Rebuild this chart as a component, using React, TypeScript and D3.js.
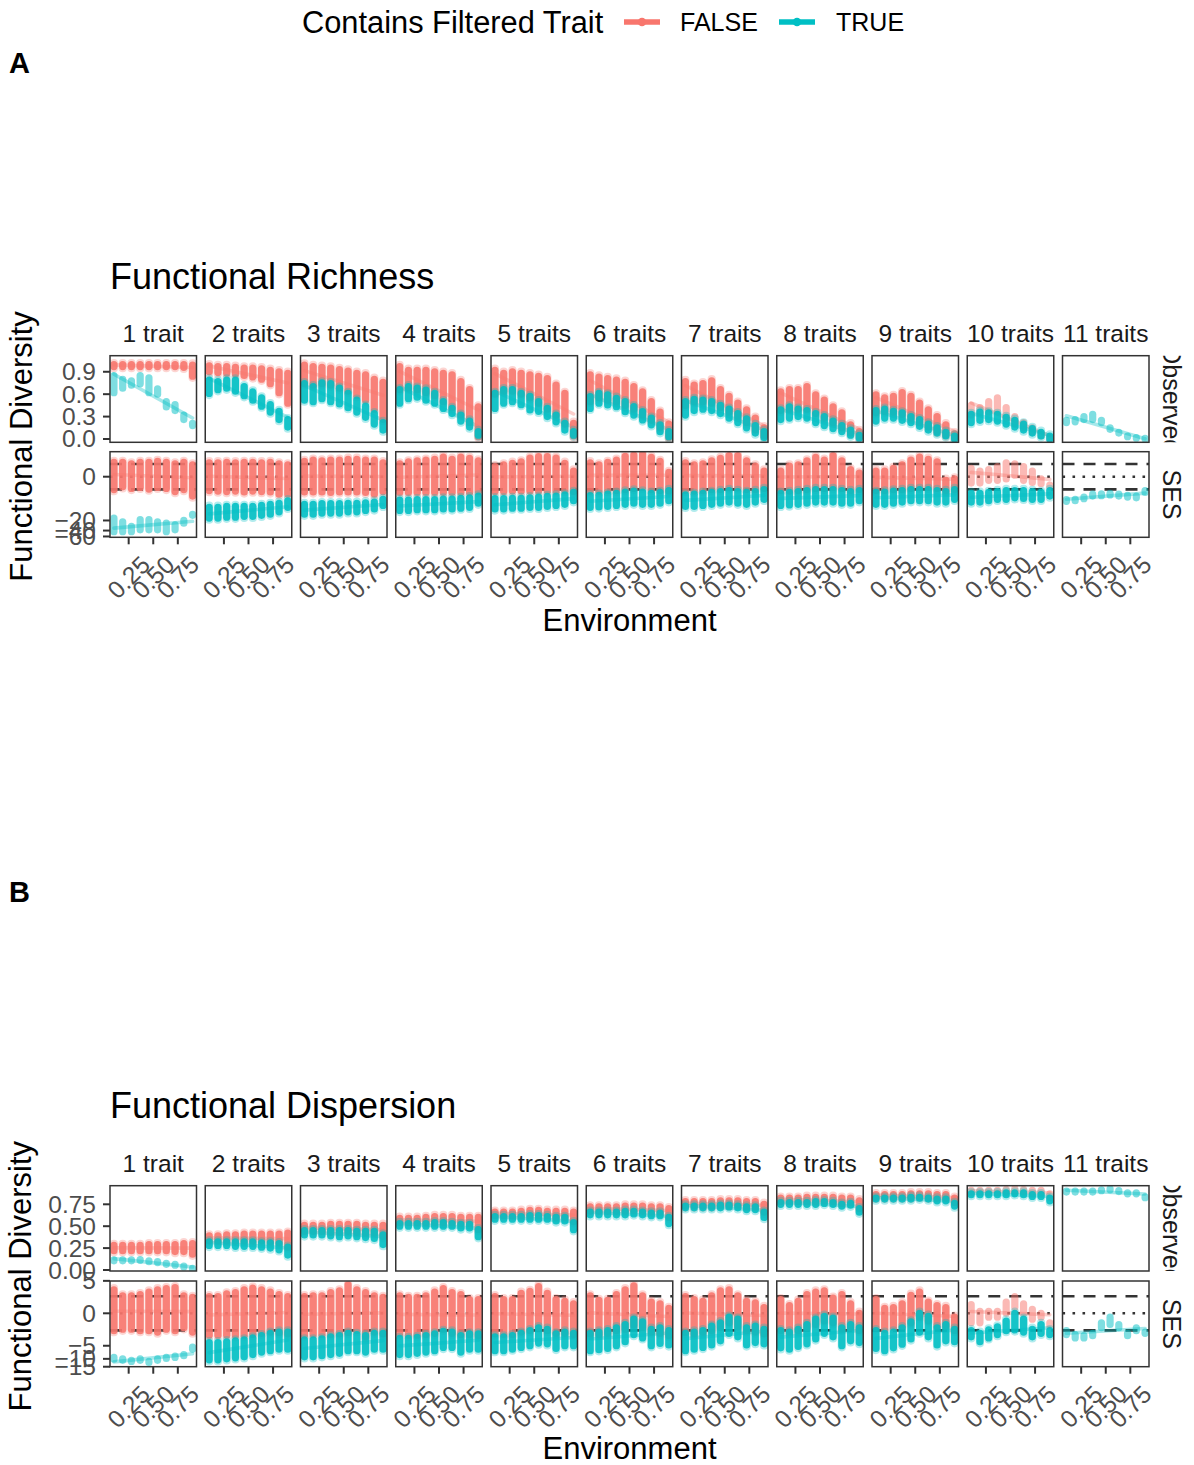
import React from "react";
import * as d3 from "d3";

// ---------------- DATA ----------------
const ENVIRONMENT = [0.1, 0.189, 0.278, 0.367, 0.456, 0.544, 0.633, 0.722, 0.811, 0.9];
const TRAIT_PANELS = ["1 trait", "2 traits", "3 traits", "4 traits", "5 traits", "6 traits", "7 traits", "8 traits", "9 traits", "10 traits", "11 traits"];
const GROUPS = ["FALSE", "TRUE"];
const GROUP_COLORS = ["#F8766D", "#00BFC4"];
// number of trait combinations per panel in each group
const COMBOS_FALSE = [10, 45, 120, 210, 252, 210, 120, 45, 10, 1, 0];
const COMBOS_TRUE = [1, 10, 45, 120, 210, 252, 210, 120, 45, 10, 1];
const X_TICKS = [0.25, 0.5, 0.75];
const FRIC_OBS_TICKS = [0, 0.3, 0.6, 0.9];
const FRIC_SES_TICKS = [0, -20, -40, -60];
const FDIS_OBS_TICKS = [0, 0.25, 0.5, 0.75];
const FDIS_SES_TICKS = [5, 0, -5, -10, -15];
const SES_BOUNDS = [-1.96, 1.96];
const SES_CENTER = [0];

// Functional Richness, observed (per panel: low / high of the point column at each environment)
const fricObsFalseLo = [
  [0.97, 0.97, 0.97, 0.97, 0.97, 0.97, 0.97, 0.97, 0.96, 0.84],
  [0.90, 0.89, 0.88, 0.87, 0.85, 0.83, 0.80, 0.74, 0.62, 0.48],
  [0.74, 0.72, 0.74, 0.72, 0.68, 0.64, 0.58, 0.52, 0.40, 0.26],
  [0.66, 0.68, 0.66, 0.62, 0.58, 0.50, 0.42, 0.32, 0.22, 0.03],
  [0.60, 0.64, 0.64, 0.60, 0.55, 0.48, 0.40, 0.32, 0.20, 0.04],
  [0.50, 0.55, 0.52, 0.50, 0.45, 0.40, 0.32, 0.25, 0.15, 0.02],
  [0.45, 0.50, 0.50, 0.48, 0.42, 0.36, 0.30, 0.22, 0.12, 0.04],
  [0.38, 0.40, 0.40, 0.40, 0.34, 0.28, 0.22, 0.15, 0.08, 0.02],
  [0.35, 0.37, 0.36, 0.33, 0.28, 0.22, 0.16, 0.10, 0.05, 0.01],
  [0.32, 0.35, 0.36, 0.36, 0.28, 0.20, 0.15, 0.09, 0.04, 0.00],
  null,
];
const fricObsFalseHi = [
  [0.995, 0.995, 0.995, 0.995, 0.995, 0.995, 0.995, 0.995, 0.995, 0.99],
  [0.98, 0.97, 0.97, 0.96, 0.95, 0.95, 0.94, 0.92, 0.90, 0.88],
  [0.99, 0.97, 0.96, 0.95, 0.93, 0.91, 0.88, 0.86, 0.80, 0.76],
  [0.97, 0.92, 0.92, 0.92, 0.90, 0.88, 0.86, 0.77, 0.66, 0.43],
  [0.92, 0.88, 0.90, 0.88, 0.86, 0.84, 0.81, 0.72, 0.61, 0.21],
  [0.86, 0.83, 0.81, 0.79, 0.76, 0.70, 0.63, 0.50, 0.36, 0.20],
  [0.77, 0.72, 0.74, 0.78, 0.66, 0.57, 0.48, 0.39, 0.28, 0.15],
  [0.63, 0.66, 0.66, 0.70, 0.59, 0.52, 0.43, 0.35, 0.19, 0.10],
  [0.59, 0.55, 0.57, 0.62, 0.57, 0.48, 0.39, 0.30, 0.19, 0.07],
  [0.45, 0.42, 0.50, 0.55, 0.42, 0.30, 0.22, 0.15, 0.08, 0.02],
  null,
];
const fricObsTrueLo = [
  [0.62, 0.68, 0.72, 0.74, 0.62, 0.60, 0.43, 0.38, 0.26, 0.18],
  [0.61, 0.66, 0.68, 0.64, 0.58, 0.52, 0.44, 0.36, 0.26, 0.16],
  [0.52, 0.50, 0.54, 0.50, 0.47, 0.42, 0.36, 0.29, 0.20, 0.12],
  [0.48, 0.54, 0.56, 0.52, 0.48, 0.41, 0.34, 0.24, 0.16, 0.05],
  [0.41, 0.48, 0.50, 0.46, 0.39, 0.37, 0.30, 0.23, 0.12, 0.05],
  [0.41, 0.48, 0.455, 0.433, 0.366, 0.32, 0.255, 0.19, 0.098, 0.03],
  [0.32, 0.38, 0.40, 0.38, 0.34, 0.28, 0.22, 0.15, 0.08, 0.02],
  [0.26, 0.28, 0.30, 0.28, 0.22, 0.18, 0.14, 0.10, 0.05, 0.01],
  [0.24, 0.28, 0.28, 0.25, 0.22, 0.17, 0.12, 0.08, 0.04, 0.00],
  [0.22, 0.25, 0.26, 0.24, 0.20, 0.16, 0.12, 0.08, 0.04, 0.00],
  [0.22, 0.23, 0.26, 0.26, 0.22, 0.13, 0.08, 0.03, 0.01, 0.00],
];
const fricObsTrueHi = [
  [0.85, 0.80, 0.78, 0.85, 0.82, 0.67, 0.50, 0.46, 0.32, 0.21],
  [0.79, 0.77, 0.79, 0.79, 0.70, 0.63, 0.55, 0.46, 0.37, 0.26],
  [0.74, 0.70, 0.75, 0.74, 0.68, 0.61, 0.52, 0.44, 0.34, 0.22],
  [0.66, 0.70, 0.68, 0.656, 0.61, 0.50, 0.41, 0.32, 0.24, 0.10],
  [0.61, 0.66, 0.66, 0.61, 0.57, 0.50, 0.41, 0.32, 0.21, 0.10],
  [0.567, 0.61, 0.59, 0.545, 0.50, 0.433, 0.366, 0.28, 0.19, 0.098],
  [0.50, 0.53, 0.52, 0.50, 0.45, 0.40, 0.34, 0.27, 0.18, 0.10],
  [0.39, 0.43, 0.40, 0.38, 0.34, 0.30, 0.24, 0.18, 0.12, 0.05],
  [0.38, 0.40, 0.37, 0.35, 0.30, 0.26, 0.20, 0.15, 0.09, 0.04],
  [0.33, 0.36, 0.35, 0.33, 0.29, 0.25, 0.20, 0.14, 0.09, 0.04],
  [0.25, 0.26, 0.30, 0.33, 0.25, 0.15, 0.09, 0.04, 0.02, 0.01],
];

// Functional Richness, SES
const fricSesFalseLo = [
  [-2.0, -1.5, -1.8, -1.6, -1.9, -1.6, -1.8, -2.4, -2.0, -3.5],
  [-2.2, -2.3, -2.4, -2.3, -2.5, -2.3, -2.4, -2.5, -3.0, -3.0],
  [-2.5, -2.5, -2.5, -2.6, -2.5, -2.5, -2.5, -2.6, -3.0, -2.4],
  [-2.6, -2.6, -2.6, -2.6, -2.6, -2.6, -2.6, -2.6, -2.6, -2.4],
  [-2.4, -2.4, -2.3, -2.3, -2.3, -2.3, -2.3, -2.3, -2.2, -2.4],
  [-2.3, -2.3, -2.2, -2.2, -2.0, -1.8, -1.6, -2.0, -2.2, -2.3],
  [-2.2, -2.3, -2.2, -2.0, -2.0, -1.7, -1.7, -2.0, -2.0, -1.8],
  [-2.2, -2.3, -2.2, -2.0, -1.8, -1.8, -1.6, -1.8, -2.2, -2.0],
  [-2.2, -2.2, -2.0, -2.0, -1.8, -1.6, -1.6, -1.8, -2.2, -2.0],
  [-0.9, -0.9, -0.5, -0.5, -0.3, 0.2, -0.5, -0.8, -1.0, -1.5],
  null,
];
const fricSesFalseHi = [
  [2.3, 2.3, 2.0, 2.3, 2.3, 2.5, 2.3, 2.0, 2.3, 1.8],
  [2.2, 2.2, 2.3, 2.2, 2.3, 2.3, 2.2, 2.3, 2.0, 1.8],
  [2.5, 2.8, 2.6, 2.8, 2.8, 3.0, 3.0, 2.8, 2.8, 2.2],
  [2.0, 2.4, 2.6, 2.8, 3.0, 3.6, 3.0, 3.6, 3.2, 2.6],
  [1.5, 1.8, 2.1, 2.4, 3.3, 3.7, 3.7, 3.3, 2.1, 0.8],
  [2.2, 1.8, 2.3, 2.8, 3.8, 4.2, 4.5, 3.5, 2.5, 0.6],
  [2.2, 1.8, 2.0, 2.6, 3.2, 4.0, 4.0, 2.6, 1.6, 0.8],
  [0.8, 1.6, 1.8, 2.6, 3.5, 2.8, 4.0, 2.6, 1.0, 0.5],
  [0.8, 0.8, 1.2, 1.8, 2.8, 3.6, 3.0, 2.4, -0.5, -0.3],
  [1.2, 0.8, 1.0, 1.5, 2.2, 2.0, 1.5, 0.8, -0.3, -1.2],
  null,
];
const fricSesTrueLo = [
  [-43, -43, -43, -38, -38, -38, -43, -38, -24, -14],
  [-17, -17, -16, -16, -15, -15, -14, -13, -11, -8],
  [-13, -13, -12, -12, -12, -11, -11, -10, -9, -7],
  [-10, -10, -9.5, -9.5, -9.5, -9, -9, -8.5, -8, -6],
  [-9, -9, -8.5, -8.5, -8, -8, -7.5, -7, -6.5, -5],
  [-8, -7.8, -7.5, -7, -6.5, -6, -6.5, -6.5, -6, -5],
  [-7.5, -7.5, -7, -6.5, -6, -5.5, -6, -6.5, -5.5, -4.5],
  [-7, -6.8, -6.5, -6, -5.5, -5.5, -5.5, -6, -6, -5],
  [-6.5, -6.5, -6, -5.5, -5, -5, -5, -5.5, -5.5, -4.5],
  [-5.5, -5.5, -5, -4.5, -4.5, -4, -4.2, -4.5, -4.5, -3.5],
  [-5.2, -5, -4.3, -3.5, -3.4, -3.2, -3.5, -3.8, -4.0, -2.6],
];
const fricSesTrueHi = [
  [-17, -22, -30, -19, -19, -22, -24, -27, -20, -13],
  [-8, -8, -7.5, -7.5, -7.5, -7.5, -7, -6.5, -6, -5],
  [-6.5, -6.5, -6.2, -6.2, -6.2, -6.0, -6.0, -5.8, -5.5, -4.5],
  [-4.8, -4.8, -4.6, -4.6, -4.6, -4.4, -4.4, -4.2, -4.0, -3.5],
  [-4.3, -4.3, -4.2, -4.2, -4.0, -3.8, -3.6, -3.5, -3.2, -2.6],
  [-3.4, -3.3, -3.0, -2.8, -2.5, -2.3, -2.5, -2.8, -2.6, -2.2],
  [-3.2, -3.0, -2.8, -2.6, -2.4, -2.2, -2.4, -2.6, -2.4, -2.0],
  [-2.8, -2.6, -2.4, -2.2, -2.0, -2.0, -2.0, -2.2, -2.4, -2.2],
  [-2.6, -2.5, -2.3, -2.2, -2.0, -2.0, -2.0, -2.2, -2.4, -2.0],
  [-2.8, -2.8, -2.6, -2.4, -2.2, -2.2, -2.2, -2.4, -2.6, -2.2],
  [-4.6, -4.5, -3.8, -3.0, -2.9, -2.8, -3.0, -3.3, -3.5, -2.2],
];

// Functional Dispersion, observed
const fdisObsFalseLo = [
  [0.22, 0.22, 0.22, 0.22, 0.22, 0.22, 0.22, 0.21, 0.21, 0.18],
  [0.33, 0.33, 0.33, 0.33, 0.33, 0.33, 0.33, 0.32, 0.31, 0.26],
  [0.44, 0.44, 0.44, 0.43, 0.43, 0.44, 0.43, 0.42, 0.42, 0.38],
  [0.54, 0.54, 0.54, 0.54, 0.54, 0.54, 0.54, 0.53, 0.53, 0.46],
  [0.62, 0.62, 0.62, 0.62, 0.62, 0.62, 0.62, 0.60, 0.60, 0.55],
  [0.67, 0.67, 0.67, 0.67, 0.67, 0.68, 0.67, 0.66, 0.66, 0.60],
  [0.73, 0.73, 0.73, 0.73, 0.74, 0.74, 0.74, 0.72, 0.72, 0.66],
  [0.78, 0.78, 0.78, 0.78, 0.78, 0.79, 0.78, 0.76, 0.77, 0.70],
  [0.83, 0.83, 0.83, 0.83, 0.83, 0.84, 0.83, 0.82, 0.82, 0.77],
  [0.88, 0.88, 0.88, 0.88, 0.89, 0.89, 0.89, 0.87, 0.87, 0.83],
  null,
];
const fdisObsFalseHi = [
  [0.28, 0.28, 0.28, 0.28, 0.29, 0.29, 0.29, 0.29, 0.30, 0.30],
  [0.39, 0.39, 0.40, 0.40, 0.41, 0.41, 0.41, 0.41, 0.41, 0.42],
  [0.51, 0.51, 0.51, 0.52, 0.52, 0.52, 0.52, 0.51, 0.51, 0.51],
  [0.59, 0.59, 0.59, 0.60, 0.61, 0.61, 0.61, 0.60, 0.60, 0.60],
  [0.66, 0.66, 0.66, 0.67, 0.68, 0.68, 0.67, 0.67, 0.67, 0.66],
  [0.72, 0.72, 0.72, 0.72, 0.73, 0.73, 0.73, 0.72, 0.72, 0.70],
  [0.78, 0.78, 0.78, 0.78, 0.79, 0.79, 0.79, 0.78, 0.78, 0.75],
  [0.82, 0.82, 0.82, 0.83, 0.83, 0.83, 0.83, 0.82, 0.82, 0.79],
  [0.86, 0.86, 0.86, 0.86, 0.87, 0.87, 0.87, 0.86, 0.86, 0.82],
  [0.91, 0.91, 0.91, 0.91, 0.92, 0.93, 0.92, 0.91, 0.91, 0.87],
  null,
];
const fdisObsTrueLo = [
  [0.105, 0.105, 0.105, 0.11, 0.095, 0.085, 0.065, 0.055, 0.035, 0.01],
  [0.28, 0.28, 0.28, 0.27, 0.27, 0.27, 0.26, 0.25, 0.23, 0.17],
  [0.40, 0.40, 0.40, 0.39, 0.38, 0.39, 0.38, 0.37, 0.36, 0.29],
  [0.50, 0.50, 0.50, 0.50, 0.50, 0.50, 0.50, 0.48, 0.48, 0.38],
  [0.58, 0.58, 0.58, 0.58, 0.58, 0.58, 0.58, 0.56, 0.56, 0.46],
  [0.63, 0.63, 0.63, 0.63, 0.63, 0.64, 0.63, 0.62, 0.62, 0.53],
  [0.71, 0.71, 0.71, 0.71, 0.71, 0.72, 0.71, 0.69, 0.69, 0.60],
  [0.75, 0.75, 0.75, 0.75, 0.75, 0.76, 0.75, 0.73, 0.74, 0.66],
  [0.81, 0.81, 0.81, 0.81, 0.81, 0.82, 0.81, 0.79, 0.79, 0.73],
  [0.86, 0.86, 0.86, 0.86, 0.86, 0.87, 0.86, 0.84, 0.84, 0.79],
  [0.89, 0.89, 0.89, 0.89, 0.905, 0.915, 0.895, 0.87, 0.87, 0.825],
];
const fdisObsTrueHi = [
  [0.115, 0.115, 0.115, 0.12, 0.105, 0.095, 0.075, 0.065, 0.045, 0.02],
  [0.32, 0.32, 0.32, 0.32, 0.32, 0.32, 0.31, 0.31, 0.30, 0.26],
  [0.45, 0.45, 0.45, 0.45, 0.45, 0.45, 0.44, 0.44, 0.44, 0.40],
  [0.53, 0.53, 0.53, 0.53, 0.54, 0.54, 0.53, 0.52, 0.52, 0.46],
  [0.61, 0.61, 0.61, 0.61, 0.62, 0.62, 0.61, 0.60, 0.60, 0.54],
  [0.66, 0.66, 0.66, 0.66, 0.67, 0.67, 0.66, 0.65, 0.65, 0.60],
  [0.73, 0.73, 0.73, 0.73, 0.74, 0.74, 0.73, 0.72, 0.72, 0.66],
  [0.77, 0.77, 0.77, 0.77, 0.78, 0.78, 0.77, 0.75, 0.76, 0.70],
  [0.82, 0.82, 0.82, 0.82, 0.83, 0.83, 0.82, 0.81, 0.81, 0.76],
  [0.87, 0.87, 0.87, 0.87, 0.88, 0.88, 0.88, 0.86, 0.86, 0.82],
  [0.90, 0.90, 0.90, 0.90, 0.915, 0.925, 0.905, 0.88, 0.88, 0.835],
];

// Functional Dispersion, SES
const fdisSesFalseLo = [
  [-2.0, -1.8, -1.8, -2.0, -2.0, -2.2, -1.8, -2.0, -1.6, -2.2],
  [-2.7, -2.7, -2.7, -2.8, -2.7, -2.6, -2.4, -2.2, -2.3, -2.5],
  [-2.7, -2.6, -2.6, -2.6, -2.5, -2.3, -2.0, -3.0, -2.2, -2.5],
  [-2.5, -2.7, -2.7, -2.6, -2.4, -1.8, -2.4, -2.6, -2.6, -2.8],
  [-2.5, -2.6, -2.6, -2.2, -2.0, -1.6, -2.0, -2.4, -2.4, -2.6],
  [-2.5, -2.6, -2.4, -2.0, -1.8, -1.3, -1.6, -2.2, -2.4, -2.8],
  [-2.3, -2.5, -2.2, -2.0, -1.6, -1.0, -1.5, -2.0, -2.2, -2.5],
  [-2.0, -2.2, -2.0, -1.6, -1.2, -0.8, -1.0, -1.8, -1.6, -2.0],
  [-1.6, -1.8, -1.6, -1.4, -1.0, -0.4, -0.8, -1.4, -1.4, -2.0],
  [-1.0, -1.0, -0.4, -0.4, 0.0, 0.6, 0.0, -0.6, -0.4, -1.3],
  null,
];
const fdisSesFalseHi = [
  [3.0, 2.0, 2.0, 2.2, 2.6, 3.0, 3.2, 3.4, 2.0, 1.8],
  [1.9, 1.9, 2.3, 2.5, 3.0, 3.3, 3.0, 2.6, 2.2, 1.9],
  [1.9, 2.0, 2.0, 2.5, 2.8, 4.0, 3.0, 2.5, 2.0, 1.8],
  [2.0, 1.8, 1.8, 2.0, 2.6, 3.2, 2.5, 2.2, 1.5, 1.5],
  [1.9, 1.5, 1.5, 2.4, 2.7, 3.6, 2.4, 1.5, 1.3, 1.0],
  [2.0, 1.4, 1.4, 2.2, 3.0, 3.8, 2.0, 1.2, 1.0, 0.5],
  [1.9, 1.5, 1.3, 2.0, 2.8, 3.0, 2.0, 1.3, 1.1, 0.6],
  [1.5, 0.8, 1.3, 2.2, 2.6, 2.8, 1.7, 2.2, 1.0, 0.0],
  [1.5, 0.5, 0.6, 1.0, 2.1, 2.6, 1.2, 0.8, 0.6, -0.4],
  [0.9, 0.2, 0.2, 0.2, 1.2, 1.9, 1.0, 0.4, 0.0, -1.0],
  null,
];
const fdisSesTrueLo = [
  [-10.2, -10.8, -11.4, -10.8, -12, -10.8, -9.8, -9.3, -8.5, -6],
  [-10.5, -10.5, -10, -9.5, -9, -8, -7, -6.5, -6, -6],
  [-9, -9, -8.5, -8, -7.5, -6.5, -6.5, -7, -6, -6],
  [-8, -8, -7.5, -7, -6.5, -5.5, -5.5, -7, -6, -6],
  [-6.5, -6.5, -6, -5.5, -5, -4.3, -4.5, -5.8, -5, -5],
  [-6.5, -6.2, -5.8, -5, -4, -2.6, -3.2, -5, -4.4, -4.8],
  [-6.5, -6, -5.5, -4.8, -3.8, -2.4, -3, -4.8, -4.2, -4.5],
  [-5.6, -6.0, -5.2, -4.5, -3.4, -2.4, -3.0, -5.0, -3.8, -4.2],
  [-5.8, -6.5, -5.6, -4.6, -3.4, -2.2, -3.0, -4.8, -3.8, -4.0],
  [-3.0, -4.0, -3.2, -2.6, -2.0, -1.9, -2.2, -3.0, -2.4, -2.6],
  [-2.6, -3.2, -3.2, -2.8, -1.6, -1.2, -1.6, -2.8, -2.0, -2.4],
];
const fdisSesTrueHi = [
  [-9.2, -10, -10.8, -10, -11.4, -10, -9.2, -8.7, -8, -5.4],
  [-4.2, -4.2, -4, -3.8, -3.6, -3.2, -2.8, -2.4, -2.2, -2.2],
  [-3.6, -3.6, -3.4, -3.0, -2.8, -2.4, -2.6, -2.8, -2.4, -2.4],
  [-3.3, -3.3, -3.1, -2.8, -2.5, -2.1, -2.2, -2.8, -2.5, -2.5],
  [-3.0, -3.0, -2.8, -2.4, -2.0, -1.6, -1.8, -2.5, -2.2, -2.4],
  [-2.4, -2.2, -2.0, -1.6, -1.2, -0.6, -0.9, -1.8, -1.6, -2.0],
  [-2.4, -2.2, -2.0, -1.4, -1.0, -0.4, -0.6, -1.6, -1.4, -1.8],
  [-2.0, -2.2, -1.8, -1.2, -0.6, -0.3, -0.5, -1.6, -1.2, -1.6],
  [-2.0, -2.4, -2.2, -1.6, -0.9, 0.0, -0.3, -1.6, -1.2, -1.8],
  [-2.0, -2.4, -1.9, -1.5, -0.8, 0.0, -0.6, -1.8, -1.2, -2.0],
  [-2.0, -2.6, -2.8, -2.4, -1.0, -0.4, -1.2, -2.4, -1.6, -2.2],
];

// ---------------- LAYOUT / STYLE ----------------
const FONT = "'Liberation Sans', Arial, Helvetica, sans-serif";
const PANEL_X0 = 110;
const PANEL_W = 86.5;
const PANEL_STEP = 95.25;
const DOT_D = 7.6;
const AXIS_COL = "#333333";
const TICK_TEXT = "#4D4D4D";
const TICK_FONT = 24.5;
const pseudoLog = (v: number) => Math.asinh(v / 2);
const identity = (v: number) => v;
const minusFmt = (v: number) => (v < 0 ? "\u2212" + Math.abs(v) : String(v));

const xScale = d3.scaleLinear().domain([0.06, 0.94]).range([0, PANEL_W]);

type Row = {
  label: string;
  top: number;
  bottom: number;
  domain: [number, number];
  tf: (v: number) => number;
  ticks: number[];
  fmt: (v: number) => string;
  ses: boolean;
  series: { lo: (number[] | null)[]; hi: (number[] | null)[]; g: number }[];
};

type Block = {
  tag: string;
  title: string;
  tagY: number;
  titleY: number;
  stripY: number;
  xTitleY: number;
  rows: Row[];
};

const BLOCKS: Block[] = [
  {
    tag: "A",
    title: "Functional Richness",
    tagY: 73,
    titleY: 289,
    stripY: 342,
    xTitleY: 631,
    rows: [
      {
        label: "Observed", top: 355.7, bottom: 442.3, domain: [-0.0442, 1.1151], tf: identity,
        ticks: FRIC_OBS_TICKS, fmt: d3.format(".1f"), ses: false,
        series: [
          { lo: fricObsFalseLo, hi: fricObsFalseHi, g: 0 },
          { lo: fricObsTrueLo, hi: fricObsTrueHi, g: 1 },
        ],
      },
      {
        label: "SES", top: 451.7, bottom: 537.3, domain: [-4.151, 1.712], tf: pseudoLog,
        ticks: FRIC_SES_TICKS, fmt: minusFmt, ses: true,
        series: [
          { lo: fricSesFalseLo, hi: fricSesFalseHi, g: 0 },
          { lo: fricSesTrueLo, hi: fricSesTrueHi, g: 1 },
        ],
      },
    ],
  },
  {
    tag: "B",
    title: "Functional Dispersion",
    tagY: 902,
    titleY: 1118,
    stripY: 1172,
    xTitleY: 1459,
    rows: [
      {
        label: "Observed", top: 1185.7, bottom: 1271, domain: [-0.0114, 0.9623], tf: identity,
        ticks: FDIS_OBS_TICKS, fmt: d3.format(".2f"), ses: false,
        series: [
          { lo: fdisObsFalseLo, hi: fdisObsFalseHi, g: 0 },
          { lo: fdisObsTrueLo, hi: fdisObsTrueHi, g: 1 },
        ],
      },
      {
        label: "SES", top: 1281, bottom: 1366.7, domain: [-2.711, 1.64], tf: pseudoLog,
        ticks: FDIS_SES_TICKS, fmt: minusFmt, ses: true,
        series: [
          { lo: fdisSesFalseLo, hi: fdisSesFalseHi, g: 0 },
          { lo: fdisSesTrueLo, hi: fdisSesTrueHi, g: 1 },
        ],
      },
    ],
  },
];

function fitLine(xs: number[], ys: number[]) {
  const mx = d3.mean(xs) as number;
  const my = d3.mean(ys) as number;
  const b = d3.sum(xs.map((x, i) => (x - mx) * (ys[i] - my))) / d3.sum(xs.map((x) => (x - mx) * (x - mx)));
  return { a: my - b * mx, b };
}

function renderRow(block: Block, row: Row, ri: number) {
  const y = d3.scaleLinear().domain(row.domain).range([row.bottom, row.top]);
  const isBottom = ri === block.rows.length - 1;
  const h = row.bottom - row.top;
  const out: any[] = [];

  TRAIT_PANELS.forEach((_, p) => {
    const x0 = PANEL_X0 + p * PANEL_STEP;
    const clipId = `clip-${block.tag}-${ri}-${p}`;
    const counts = [COMBOS_FALSE[p], COMBOS_TRUE[p]];
    const active = row.series.filter((s) => s.lo[p] && s.hi[p] && counts[s.g] > 0);

    const refLines: any[] = [];
    if (row.ses) {
      SES_BOUNDS.forEach((v, k) =>
        refLines.push(
          <line key={`d${k}`} x1={x0} x2={x0 + PANEL_W} y1={y(row.tf(v))} y2={y(row.tf(v))}
            stroke={AXIS_COL} strokeWidth={2.6} strokeDasharray="12 9" />
        )
      );
      SES_CENTER.forEach((v, k) =>
        refLines.push(
          <line key={`c${k}`} x1={x0} x2={x0 + PANEL_W} y1={y(row.tf(v))} y2={y(row.tf(v))}
            stroke={AXIS_COL} strokeWidth={2.6} strokeDasharray="2.6 7.4" />
        )
      );
    }

    const fits = active.map((s, k) => {
      const lo = s.lo[p] as number[];
      const hi = s.hi[p] as number[];
      const mids = lo.map((l, i) => (row.tf(l) + row.tf(hi[i])) / 2);
      const f = fitLine(ENVIRONMENT, mids);
      const xa = ENVIRONMENT[0];
      const xb = ENVIRONMENT[ENVIRONMENT.length - 1];
      return (
        <line key={`f${k}`} x1={x0 + xScale(xa)} x2={x0 + xScale(xb)} y1={y(f.a + f.b * xa)} y2={y(f.a + f.b * xb)}
          stroke={GROUP_COLORS[s.g]} strokeWidth={3.6} strokeLinecap="round" opacity={0.35} />
      );
    });

    const cols = active.map((s, k) => {
      const lo = s.lo[p] as number[];
      const hi = s.hi[p] as number[];
      const faint = counts[s.g] <= 1;
      const color = GROUP_COLORS[s.g];
      return (
        <g key={`s${k}`}>
          {ENVIRONMENT.map((e, i) => {
            const cx = x0 + xScale(e);
            const ya = y(row.tf(hi[i]));
            const yb = y(row.tf(lo[i])) + 0.01;
            if (faint) {
              return (
                <line key={i} x1={cx} x2={cx} y1={ya} y2={yb} stroke={color} strokeWidth={DOT_D - 0.4}
                  strokeLinecap="round" opacity={0.5} />
              );
            }
            return (
              <g key={i}>
                <line x1={cx} x2={cx} y1={ya - 1.6} y2={yb + 1.6} stroke={color} strokeWidth={DOT_D + 0.6}
                  strokeLinecap="round" opacity={0.3} />
                <line x1={cx} x2={cx} y1={ya} y2={yb} stroke={color} strokeWidth={DOT_D - 0.4}
                  strokeLinecap="round" opacity={0.88} />
              </g>
            );
          })}
        </g>
      );
    });

    out.push(
      <g key={`${block.tag}-${ri}-${p}`}>
        <defs>
          <clipPath id={clipId}>
            <rect x={x0} y={row.top} width={PANEL_W} height={h} />
          </clipPath>
        </defs>
        <rect x={x0} y={row.top} width={PANEL_W} height={h} fill="#FFFFFF" />
        <g clipPath={`url(#${clipId})`}>
          {refLines}
          {fits}
          {cols}
        </g>
        <rect x={x0} y={row.top} width={PANEL_W} height={h} fill="none" stroke={AXIS_COL} strokeWidth={1.5} />
        {isBottom &&
          X_TICKS.map((t) => {
            const tx = x0 + xScale(t);
            return (
              <g key={`xt${t}`}>
                <line x1={tx} x2={tx} y1={row.bottom} y2={row.bottom + 7} stroke={AXIS_COL} strokeWidth={2} />
                <text x={tx} y={row.bottom + 40} transform={`rotate(-45, ${tx}, ${row.bottom + 40})`}
                  textAnchor="middle" dominantBaseline="central" fontSize={TICK_FONT} fill={TICK_TEXT} fontFamily={FONT}>
                  {d3.format(".2f")(t)}
                </text>
              </g>
            );
          })}
      </g>
    );
  });

  // y axis (first column)
  row.ticks.forEach((t) => {
    const ty = y(row.tf(t));
    out.push(
      <g key={`yt-${block.tag}-${ri}-${t}`}>
        <line x1={PANEL_X0 - 7} x2={PANEL_X0} y1={ty} y2={ty} stroke={AXIS_COL} strokeWidth={2} />
        <text x={PANEL_X0 - 14} y={ty} textAnchor="end" dominantBaseline="central" fontSize={TICK_FONT}
          fill={TICK_TEXT} fontFamily={FONT}>
          {row.fmt(t)}
        </text>
      </g>
    );
  });

  // right strip
  const sx = PANEL_X0 + 10 * PANEL_STEP + PANEL_W;
  const cy = (row.top + row.bottom) / 2;
  const sClip = `sclip-${block.tag}-${ri}`;
  out.push(
    <g key={`strip-${block.tag}-${ri}`}>
      <defs>
        <clipPath id={sClip}>
          <rect x={sx} y={row.top} width={1194 - sx} height={h} />
        </clipPath>
      </defs>
      <g clipPath={`url(#${sClip})`}>
        <text x={1172} y={cy} transform={`rotate(90, 1172, ${cy})`} textAnchor="middle"
          dominantBaseline="central" fontSize={25} fill="#1A1A1A" fontFamily={FONT}>
          {row.label}
        </text>
      </g>
    </g>
  );
  return out;
}

export default function App() {
  return (
    <svg width={1194} height={1465} viewBox="0 0 1194 1465"
      style={{ position: "absolute", left: 0, top: 0, background: "#FFFFFF" }} fontFamily={FONT}>
      <rect x={0} y={0} width={1194} height={1465} fill="#FFFFFF" />

      {/* legend */}
      <text x={302} y={33} fontSize={30.8} fill="#000">Contains Filtered Trait</text>
      {GROUPS.map((g, i) => {
        const kx = [624, 779][i];
        const lx = [680, 836][i];
        return (
          <g key={g}>
            <line x1={kx} x2={kx + 36} y1={22} y2={22} stroke={GROUP_COLORS[i]} strokeWidth={5.5} />
            <circle cx={kx + 18} cy={22} r={4.3} fill={GROUP_COLORS[i]} />
            <text x={lx} y={31} fontSize={25} fill="#000">{g}</text>
          </g>
        );
      })}

      {BLOCKS.map((block) => {
        const top = block.rows[0].top;
        const bottom = block.rows[block.rows.length - 1].bottom;
        return (
          <g key={block.tag}>
            <text x={9} y={block.tagY} fontSize={29} fontWeight="bold" fill="#000">{block.tag}</text>
            <text x={PANEL_X0} y={block.titleY} fontSize={36} fill="#000">{block.title}</text>
            {TRAIT_PANELS.map((t, p) => (
              <text key={t} x={PANEL_X0 + p * PANEL_STEP + PANEL_W / 2} y={block.stripY} textAnchor="middle"
                fontSize={24.5} fill="#1A1A1A">
                {t}
              </text>
            ))}
            {block.rows.map((row, ri) => renderRow(block, row, ri))}
            <text x={21} y={(top + bottom) / 2} transform={`rotate(-90, 21, ${(top + bottom) / 2})`}
              textAnchor="middle" dominantBaseline="central" fontSize={31} fill="#000">
              Functional Diversity
            </text>
            <text x={PANEL_X0 + (10 * PANEL_STEP + PANEL_W) / 2} y={block.xTitleY} textAnchor="middle"
              fontSize={31} fill="#000">
              Environment
            </text>
          </g>
        );
      })}
    </svg>
  );
}
